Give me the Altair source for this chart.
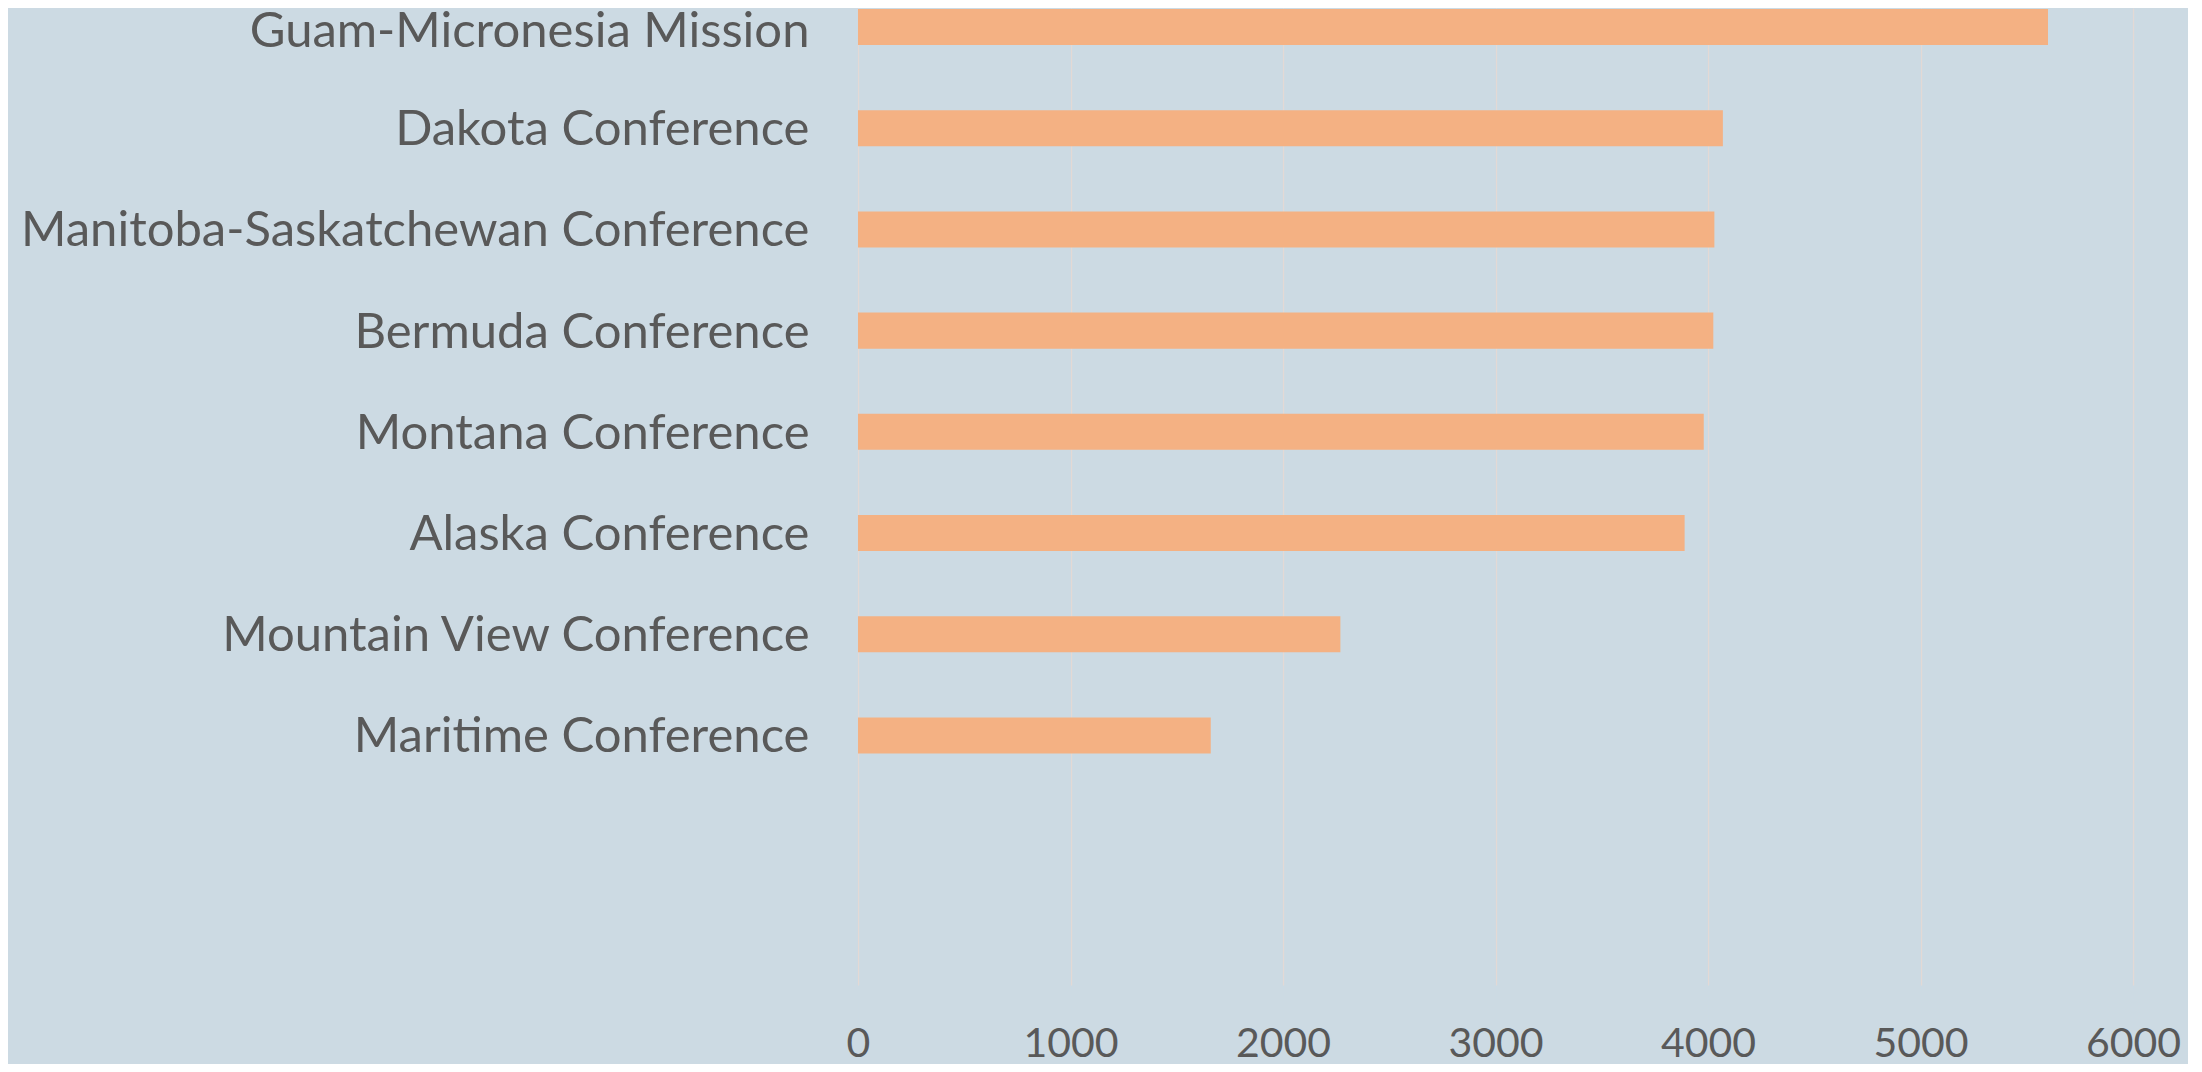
import altair as alt
import pandas as pd

categories = [
    "Guam-Micronesia Mission",
    "Dakota Conference",
    "Manitoba-Saskatchewan Conference",
    "Bermuda Conference",
    "Montana Conference",
    "Alaska Conference",
    "Mountain View Conference",
    "Maritime Conference\u00a0",
]
values = [5600, 4070, 4030, 4025, 3980, 3890, 2270, 1660]
x_ticks = [0, 1000, 2000, 3000, 4000, 5000, 6000]
# two empty rows below the last bar (blank space in the original chart)
blank_rows = ["_blank1", "_blank2"]

df = pd.DataFrame({"name": categories, "value": values})

FONT = "Lato"
TEXT = "#595959"

chart = (
    alt.Chart(df)
    .mark_bar(color="#F4B183")
    .encode(
        x=alt.X(
            "value:Q",
            scale=alt.Scale(domain=[0, 6000], nice=False),
            axis=alt.Axis(
                values=x_ticks,
                format="d",
                title=None,
                domain=False,
                ticks=False,
                grid=True,
                gridColor="#E3D9D5",
                gridWidth=1.2,
                labelFont=FONT,
                labelFontSize=41,
                labelColor=TEXT,
                labelPadding=39,
                labelFlush=False,
            ),
        ),
        y=alt.Y(
            "name:N",
            scale=alt.Scale(
                domain=categories + blank_rows,
                paddingInner=0.644,
                paddingOuter=0.149,
                align=0.033,
            ),
            axis=alt.Axis(
                title=None,
                domain=False,
                ticks=False,
                grid=False,
                labelFont=FONT,
                labelFontSize=49,
                labelColor=TEXT,
                labelPadding=49,
                labelLimit=1000,
                labelOffset={
                    "condition": {
                        "test": "datum.value === 'Guam-Micronesia Mission'",
                        "value": 5,
                    },
                    "value": 2,
                },
                labelExpr="indexof(datum.label, '_blank') == 0 ? '' : datum.label",
            ),
        ),
    )
    .properties(
        width=1275,
        height=977,
        background="#CCDAE3",
        autosize=alt.AutoSizeParams(type="none"),
        padding={"left": 850, "top": 0, "right": 55, "bottom": 79},
    )
    .configure_view(stroke=None)
)

chart.save("out.html", embed_options={"renderer": "svg", "actions": False})
